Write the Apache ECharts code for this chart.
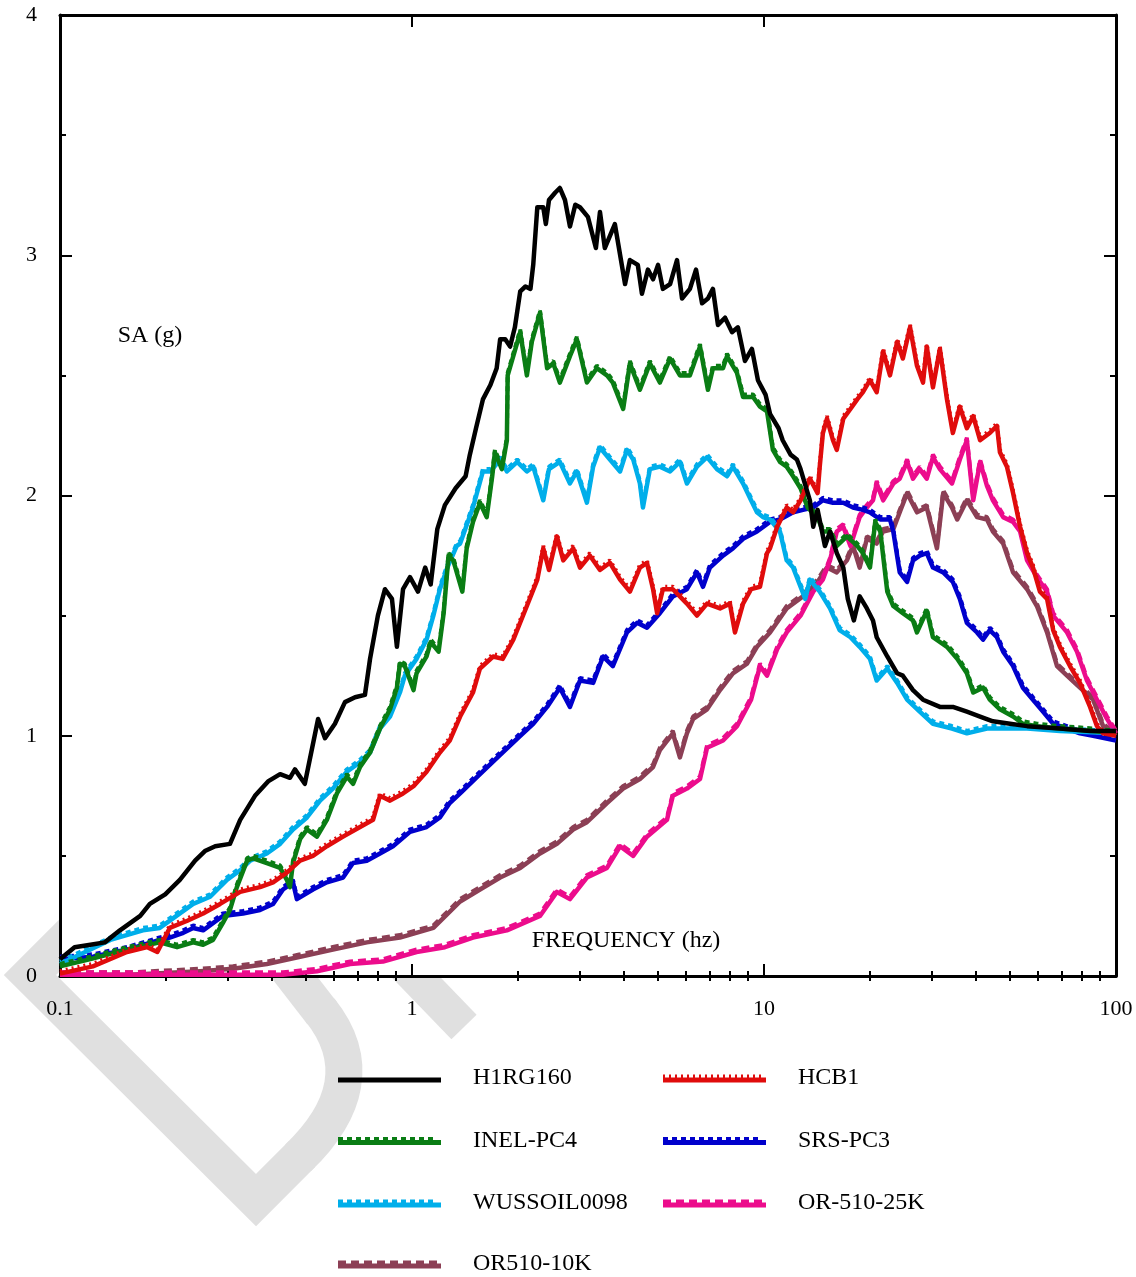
<!DOCTYPE html>
<html>
<head>
<meta charset="utf-8">
<script src="https://cdn.jsdelivr.net/npm/echarts@6/dist/echarts.min.js"></script>
<style>
  html, body { margin: 0; padding: 0; background: #fff; }
  #chart { width: 1136px; height: 1277px; }
</style>
</head>
<body>
<div id="chart"></div>
<script>
// Spectral acceleration SA (g) versus frequency (Hz), pairs of [frequency, SA]
const xTickMajor = [0.1, 1, 10, 100];
const xTickMinor = [0.2, 0.3, 0.4, 0.5, 0.6, 0.7, 0.8, 0.9, 2, 3, 4, 5, 6, 7, 8, 9, 20, 30, 40, 50, 60, 70, 80, 90];
const yTicks = [0, 1, 2, 3, 4];

const h1rg160 = [
  [0.1,0.07],[0.11,0.12],[0.122,0.13],[0.134,0.14],[0.148,0.19],[0.169,0.25],[0.18,0.30],[0.199,0.34],[0.219,0.40],[0.242,0.48],
  [0.258,0.52],[0.276,0.54],[0.304,0.55],[0.325,0.65],[0.358,0.75],[0.39,0.81],[0.422,0.84],[0.45,0.825],[0.465,0.86],[0.496,0.80],
  [0.541,1.07],[0.566,0.99],[0.604,1.05],[0.645,1.14],[0.689,1.16],[0.735,1.17],[0.76,1.32],[0.80,1.50],[0.838,1.61],[0.877,1.57],
  [0.906,1.37],[0.943,1.61],[0.987,1.66],[1.04,1.60],[1.09,1.70],[1.13,1.63],[1.18,1.86],[1.24,1.96],[1.33,2.03],[1.42,2.08],
  [1.46,2.17],[1.52,2.28],[1.59,2.40],[1.67,2.46],[1.74,2.53],[1.78,2.65],[1.84,2.65],[1.90,2.62],[1.96,2.70],[2.03,2.85],
  [2.10,2.87],[2.17,2.86],[2.21,2.96],[2.27,3.20],[2.36,3.20],[2.40,3.13],[2.45,3.23],[2.55,3.26],[2.63,3.28],[2.72,3.23],
  [2.81,3.12],[2.91,3.21],[3.00,3.20],[3.16,3.16],[3.33,3.03],[3.42,3.18],[3.53,3.03],[3.77,3.13],[4.03,2.88],[4.16,2.98],
  [4.38,2.96],[4.50,2.84],[4.68,2.94],[4.84,2.90],[5.00,2.96],[5.16,2.86],[5.41,2.88],[5.66,2.98],[5.85,2.82],[6.16,2.86],
  [6.41,2.94],[6.67,2.80],[6.93,2.82],[7.16,2.86],[7.40,2.71],[7.75,2.74],[8.11,2.68],[8.43,2.70],[8.83,2.56],[9.24,2.61],
  [9.61,2.48],[10.1,2.42],[10.4,2.34],[11.0,2.28],[11.3,2.23],[11.9,2.17],[12.4,2.15],[12.7,2.11],[13.5,1.98],[13.8,1.87],
  [14.2,1.94],[14.9,1.79],[15.4,1.85],[16.1,1.76],[16.8,1.70],[17.3,1.57],[18.0,1.48],[18.7,1.58],[19.6,1.53],[20.4,1.48],
  [20.9,1.41],[22.4,1.33],[23.9,1.26],[24.8,1.25],[26.5,1.19],[28.3,1.15],[31.6,1.12],[34.4,1.12],[37.7,1.10],[41.1,1.08],
  [44.7,1.06],[50.0,1.05],[55.9,1.04],[69.3,1.03],[84.4,1.02],[100,1.02]
];

const inelPc4 = [
  [0.1,0.04],[0.122,0.07],[0.155,0.11],[0.192,0.14],[0.215,0.12],[0.239,0.14],[0.255,0.13],[0.272,0.15],[0.29,0.22],[0.304,0.275],
  [0.318,0.37],[0.34,0.48],[0.354,0.49],[0.387,0.47],[0.422,0.45],[0.441,0.40],[0.45,0.37],[0.459,0.47],[0.481,0.57],[0.503,0.61],
  [0.537,0.58],[0.573,0.65],[0.612,0.76],[0.653,0.83],[0.68,0.80],[0.712,0.87],[0.76,0.93],[0.811,1.03],[0.866,1.11],[0.906,1.20],
  [0.924,1.30],[0.954,1.29],[1.01,1.19],[1.03,1.26],[1.10,1.33],[1.13,1.39],[1.19,1.35],[1.23,1.51],[1.27,1.75],[1.31,1.73],
  [1.39,1.60],[1.43,1.78],[1.49,1.89],[1.56,1.97],[1.63,1.91],[1.69,2.08],[1.72,2.18],[1.80,2.11],[1.86,2.23],[1.87,2.50],
  [2.03,2.68],[2.12,2.50],[2.19,2.64],[2.31,2.76],[2.42,2.53],[2.52,2.55],[2.63,2.47],[2.81,2.58],[2.94,2.65],[3.14,2.47],
  [3.35,2.53],[3.58,2.50],[3.72,2.47],[3.98,2.36],[4.16,2.55],[4.44,2.44],[4.74,2.55],[5.06,2.47],[5.41,2.57],[5.77,2.50],
  [6.16,2.50],[6.58,2.62],[6.93,2.44],[7.16,2.53],[7.65,2.53],[7.85,2.58],[8.38,2.51],[8.72,2.41],[9.31,2.41],[9.74,2.37],
  [10.2,2.35],[10.6,2.19],[11.1,2.14],[11.6,2.12],[12.1,2.08],[12.7,2.03],[13.3,1.95],[14.2,1.91],[14.7,1.85],[15.4,1.85],
  [16.1,1.79],[17.2,1.83],[18.4,1.79],[19.1,1.76],[20.0,1.70],[20.7,1.89],[21.4,1.85],[22.4,1.60],[23.3,1.54],[24.8,1.51],
  [26.5,1.48],[27.2,1.43],[29.0,1.52],[30.2,1.41],[33.1,1.37],[35.4,1.32],[37.7,1.26],[39.3,1.18],[41.9,1.20],[43.8,1.15],
  [46.8,1.11],[51.0,1.08],[54.4,1.05],[59.6,1.04],[69.3,1.03],[86.1,1.02],[100,1.01]
];

const wussoil0098 = [
  [0.1,0.05],[0.139,0.15],[0.172,0.19],[0.192,0.20],[0.239,0.30],[0.267,0.33],[0.298,0.40],[0.325,0.44],[0.347,0.48],[0.387,0.51],
  [0.422,0.55],[0.459,0.61],[0.503,0.66],[0.548,0.73],[0.596,0.78],[0.653,0.85],[0.712,0.89],[0.76,0.93],[0.811,1.03],[0.866,1.08],
  [0.924,1.18],[0.954,1.25],[1.03,1.32],[1.10,1.40],[1.15,1.50],[1.20,1.61],[1.26,1.70],[1.34,1.79],[1.37,1.80],[1.49,1.95],
  [1.59,2.10],[1.67,2.10],[1.78,2.15],[1.86,2.10],[1.99,2.14],[2.12,2.10],[2.21,2.12],[2.36,1.98],[2.45,2.11],[2.63,2.14],
  [2.81,2.05],[2.94,2.10],[3.14,1.97],[3.27,2.12],[3.42,2.20],[3.65,2.15],[3.90,2.10],[4.08,2.19],[4.25,2.15],[4.44,2.05],
  [4.53,1.95],[4.74,2.11],[5.06,2.12],[5.41,2.10],[5.77,2.14],[6.04,2.05],[6.45,2.12],[6.89,2.16],[7.35,2.11],[7.85,2.08],
  [8.16,2.12],[8.72,2.05],[9.19,1.98],[9.55,1.93],[9.93,1.91],[10.4,1.90],[11.1,1.85],[11.6,1.73],[12.1,1.70],[12.7,1.62],
  [13.1,1.57],[13.5,1.65],[14.4,1.60],[15.4,1.53],[16.4,1.44],[17.6,1.41],[18.7,1.37],[20.0,1.32],[20.9,1.23],[22.4,1.28],
  [23.9,1.22],[25.5,1.15],[27.7,1.10],[30.2,1.05],[34.2,1.03],[37.7,1.01],[43.0,1.03],[49.0,1.03],[55.9,1.03],[69.3,1.02],[100,1.01]
];

const or51010k = [
  [0.1,0.005],[0.158,0.005],[0.25,0.02],[0.31,0.03],[0.387,0.05],[0.481,0.08],[0.596,0.11],[0.744,0.14],[0.924,0.16],[1.15,0.20],
  [1.37,0.31],[1.56,0.36],[1.78,0.41],[2.03,0.45],[2.31,0.51],[2.58,0.55],[2.87,0.61],[3.14,0.64],[3.58,0.72],[3.98,0.78],
  [4.44,0.82],[4.84,0.87],[5.06,0.94],[5.51,1.01],[5.77,0.91],[6.04,1.01],[6.29,1.07],[6.89,1.11],[7.50,1.19],[8.16,1.26],
  [8.95,1.30],[9.55,1.37],[10.4,1.43],[11.6,1.53],[12.9,1.58],[14.2,1.64],[15.1,1.70],[16.1,1.68],[17.2,1.73],[17.9,1.79],
  [18.7,1.70],[19.6,1.82],[20.9,1.80],[21.8,1.85],[23.3,1.86],[24.3,1.93],[25.5,2.01],[27.2,1.93],[29.0,1.95],[31.0,1.78],
  [32.3,2.01],[34.2,1.95],[35.4,1.90],[37.7,1.98],[40.3,1.91],[43.0,1.90],[44.7,1.85],[47.8,1.80],[51.0,1.68],[55.9,1.61],
  [59.6,1.54],[63.7,1.43],[68.0,1.29],[72.6,1.25],[79.0,1.20],[86.1,1.15],[91.9,1.04],[100,1.00]
];

const hcb1 = [
  [0.1,0.01],[0.124,0.04],[0.155,0.10],[0.177,0.12],[0.189,0.10],[0.205,0.20],[0.23,0.23],[0.255,0.26],[0.285,0.30],[0.325,0.35],
  [0.37,0.37],[0.403,0.39],[0.441,0.43],[0.481,0.48],[0.523,0.50],[0.573,0.54],[0.637,0.58],[0.712,0.62],[0.775,0.65],[0.811,0.75],
  [0.866,0.73],[0.943,0.76],[1.01,0.79],[1.10,0.85],[1.20,0.93],[1.28,0.98],[1.37,1.08],[1.49,1.18],[1.56,1.28],[1.70,1.33],
  [1.81,1.32],[1.94,1.40],[2.12,1.54],[2.27,1.65],[2.36,1.78],[2.45,1.69],[2.58,1.83],[2.69,1.73],[2.87,1.78],[3.00,1.70],
  [3.20,1.75],[3.42,1.69],[3.65,1.72],[3.90,1.65],[4.16,1.60],[4.44,1.70],[4.65,1.72],[4.84,1.61],[4.97,1.51],[5.16,1.61],
  [5.51,1.61],[6.04,1.55],[6.45,1.50],[6.89,1.55],[7.50,1.53],[8.00,1.55],[8.27,1.43],[8.72,1.55],[9.19,1.61],[9.74,1.62],
  [10.2,1.76],[10.4,1.78],[10.9,1.87],[11.6,1.95],[12.1,1.93],[12.7,1.98],[13.5,2.07],[14.2,2.01],[14.4,2.12],[14.7,2.26],
  [15.1,2.32],[15.7,2.23],[16.1,2.19],[16.8,2.32],[17.6,2.36],[18.4,2.40],[19.1,2.43],[20.0,2.48],[20.9,2.43],[21.8,2.60],
  [22.8,2.50],[23.9,2.64],[24.8,2.57],[26.0,2.70],[27.2,2.54],[28.3,2.47],[29.0,2.62],[30.2,2.45],[31.6,2.61],[33.1,2.40],
  [34.4,2.26],[36.0,2.37],[37.7,2.28],[39.3,2.33],[41.1,2.23],[43.8,2.26],[45.9,2.29],[46.8,2.18],[49.0,2.12],[51.0,2.01],
  [53.4,1.87],[55.9,1.76],[58.1,1.70],[60.8,1.60],[63.7,1.57],[66.3,1.44],[69.3,1.37],[74.0,1.29],[79.0,1.22],[84.4,1.12],
  [88.3,1.04],[91.9,1.01],[100,1.00]
];

const srsPc3 = [
  [0.1,0.07],[0.124,0.08],[0.155,0.11],[0.192,0.15],[0.205,0.16],[0.224,0.18],[0.239,0.20],[0.255,0.19],[0.272,0.22],[0.29,0.25],
  [0.331,0.26],[0.37,0.275],[0.403,0.30],[0.43,0.36],[0.459,0.39],[0.471,0.32],[0.523,0.36],[0.573,0.39],[0.637,0.41],[0.68,0.47],
  [0.744,0.48],[0.811,0.51],[0.883,0.54],[0.987,0.60],[1.10,0.62],[1.20,0.66],[1.28,0.72],[1.37,0.76],[1.56,0.84],[1.78,0.92],
  [2.03,1.00],[2.21,1.05],[2.42,1.12],[2.63,1.20],[2.81,1.12],[3.00,1.23],[3.27,1.22],[3.49,1.33],[3.72,1.29],[4.08,1.43],
  [4.36,1.47],[4.65,1.45],[5.06,1.51],[5.51,1.58],[6.04,1.61],[6.45,1.68],[6.71,1.62],[7.02,1.70],[7.65,1.75],[8.16,1.78],
  [8.72,1.82],[9.55,1.85],[10.4,1.89],[11.1,1.90],[12.1,1.93],[12.9,1.94],[13.8,1.95],[14.7,1.98],[15.7,1.97],[16.8,1.97],
  [17.9,1.95],[19.1,1.94],[20.0,1.93],[21.4,1.90],[22.8,1.90],[23.3,1.85],[24.3,1.68],[25.5,1.64],[26.5,1.73],[27.7,1.75],
  [29.0,1.76],[30.2,1.70],[32.3,1.68],[34.4,1.64],[36.0,1.57],[37.7,1.47],[40.3,1.43],[41.9,1.40],[43.8,1.44],[45.9,1.41],
  [47.8,1.35],[51.0,1.29],[54.4,1.20],[58.1,1.15],[62.1,1.10],[66.3,1.05],[72.6,1.03],[79.0,1.01],[86.1,1.00],[100,0.98]
];

const or51025k = [
  [0.1,0.005],[0.43,0.005],[0.537,0.02],[0.667,0.05],[0.827,0.06],[1.03,0.10],[1.24,0.12],[1.49,0.16],[1.86,0.19],[2.31,0.25],
  [2.58,0.35],[2.81,0.32],[3.14,0.41],[3.58,0.45],[3.90,0.54],[4.25,0.50],[4.65,0.58],[5.30,0.65],[5.51,0.75],[6.04,0.78],
  [6.58,0.82],[6.89,0.95],[7.65,0.98],[8.38,1.04],[9.19,1.15],[9.74,1.29],[10.2,1.25],[10.9,1.36],[11.6,1.43],[12.7,1.50],
  [13.8,1.60],[14.7,1.65],[15.4,1.73],[16.1,1.85],[16.8,1.87],[17.6,1.79],[18.7,1.91],[19.6,1.95],[20.4,1.98],[20.9,2.05],
  [21.8,1.98],[23.3,2.05],[24.3,2.07],[25.5,2.14],[26.5,2.07],[27.7,2.11],[29.0,2.07],[30.2,2.16],[31.6,2.11],[34.2,2.05],
  [36.0,2.15],[37.7,2.23],[39.3,1.98],[41.1,2.14],[43.0,2.04],[44.7,1.98],[47.8,1.91],[51.0,1.89],[53.4,1.85],[55.9,1.73],
  [59.6,1.66],[63.7,1.60],[66.3,1.50],[72.6,1.43],[77.5,1.35],[82.7,1.23],[88.3,1.15],[94.3,1.07],[100,1.01]
];

// name, data, colour, dash pattern of the companion trace (null = single solid trace)
const curves = [
  { name: 'OR510-10K',   data: or51010k,    color: '#8c3f55', dash: [8, 5] },
  { name: 'OR-510-25K',  data: or51025k,    color: '#ec0c8c', dash: [8, 5] },
  { name: 'SRS-PC3',     data: srsPc3,      color: '#0000cc', dash: [5, 4] },
  { name: 'WUSSOIL0098', data: wussoil0098, color: '#00aeea', dash: [5, 4] },
  { name: 'INEL-PC4',    data: inelPc4,     color: '#0a7d14', dash: [5, 4] },
  { name: 'HCB1',        data: hcb1,        color: '#e00c0c', dash: [2, 4] },
  { name: 'H1RG160',     data: h1rg160,     color: '#000000', dash: null }
];
// legend blocks: [left edge, top edge, entries]
const legendBlocks = [
  [338, 1066, ['H1RG160', 'INEL-PC4', 'WUSSOIL0098']],
  [338, 1252, ['OR510-10K']],
  [663, 1066, ['HCB1', 'SRS-PC3', 'OR-510-25K']]
];

const FONT = '"Liberation Serif", "Times New Roman", serif';

// Legend glyph: a bar with a comb of dashes on top (the paired traces)
function legendIcon(dash) {
  const W = 103;
  let p = 'path://M0,0 L0.01,0 L0,0.01 Z M0,4 L' + W + ',4 L' + W + ',9 L0,9 Z';
  if (dash) {
    for (let x = 0; x + dash[0] <= W; x += dash[0] + dash[1]) {
      p += ' M' + x + ',1 L' + (x + dash[0]) + ',1 L' + (x + dash[0]) + ',4 L' + x + ',4 Z';
    }
  }
  return p;
}

const byName = {};
curves.forEach(c => { byName[c.name] = c; });
function legendData(names) {
  return names.map(n => ({ name: n, icon: legendIcon(byName[n].dash), itemStyle: { color: byName[n].color } }));
}

const series = [];
curves.forEach(c => {
  if (c.dash) {
    series.push({
      name: c.name, type: 'line', xAxisIndex: 4, yAxisIndex: 2, data: c.data,
      symbol: 'none', animation: false, silent: true,
      lineStyle: { color: c.color, width: 4, type: c.dash }
    });
  }
  series.push({
    name: c.name, type: 'line', xAxisIndex: 0, yAxisIndex: 0, data: c.data,
    symbol: 'none', animation: false,
    lineStyle: { color: c.color, width: 4.5, join: 'round' }
  });
});

const logRange = { type: 'log', logBase: 10, min: 0.1, max: 100 };
const tickLine = { color: '#000', width: 2 };
const stamp = { fill: 'none', stroke: '#e0e0e0', lineWidth: 37 };
const legendText = { color: '#000', fontSize: 24, fontFamily: FONT, lineHeight: 22, padding: [0, 0, 0, 27] };

const option = {
  backgroundColor: '#fff',
  animation: false,
  grid: [
    { left: 60, right: 20, top: 15, bottom: 301, show: true, backgroundColor: '#fff', borderWidth: 0 },
    { left: 60, right: 20, top: 12.5, bottom: 303.5, show: false }
  ],
  xAxis: [
    Object.assign({}, logRange, {
      gridIndex: 0, position: 'bottom',
      axisLine: { show: true, onZero: false, lineStyle: { color: '#000', width: 3 } },
      axisTick: { show: true, inside: true, length: 12, lineStyle: tickLine, customValues: xTickMajor },
      axisLabel: { show: true, customValues: xTickMajor, margin: 22, color: '#000', fontSize: 22, fontFamily: FONT,
                   formatter: v => String(+(+v).toPrecision(6)) },
      splitLine: { show: false }
    }),
    Object.assign({}, logRange, {
      gridIndex: 0, position: 'bottom',
      axisLine: { show: false },
      axisTick: { show: true, inside: true, length: 5, lineStyle: tickLine, customValues: xTickMinor },
      axisLabel: { show: false }, splitLine: { show: false }
    }),
    Object.assign({}, logRange, {
      gridIndex: 0, position: 'top',
      axisLine: { show: true, onZero: false, lineStyle: { color: '#000', width: 3 } },
      axisTick: { show: true, inside: true, length: 12, lineStyle: tickLine, customValues: xTickMajor },
      axisLabel: { show: false }, splitLine: { show: false }
    }),
    Object.assign({}, logRange, {
      gridIndex: 0, position: 'top',
      axisLine: { show: false },
      axisTick: { show: true, inside: true, length: 5, lineStyle: tickLine, customValues: xTickMinor },
      axisLabel: { show: false }, splitLine: { show: false }
    }),
    Object.assign({}, logRange, { gridIndex: 1, show: false })
  ],
  yAxis: [
    {
      gridIndex: 0, type: 'value', min: yTicks[0], max: yTicks[yTicks.length - 1], interval: 1, position: 'left',
      axisLine: { show: true, onZero: false, lineStyle: { color: '#000', width: 3 } },
      axisTick: { show: true, inside: true, length: 12, lineStyle: tickLine },
      minorTick: { show: true, splitNumber: 2, length: 6, lineStyle: tickLine },
      axisLabel: { margin: 23, color: '#000', fontSize: 22, fontFamily: FONT },
      splitLine: { show: false }, minorSplitLine: { show: false }
    },
    {
      gridIndex: 0, type: 'value', min: yTicks[0], max: yTicks[yTicks.length - 1], interval: 1, position: 'right',
      axisLine: { show: true, onZero: false, lineStyle: { color: '#000', width: 3 } },
      axisTick: { show: true, inside: true, length: 12, lineStyle: tickLine },
      minorTick: { show: true, splitNumber: 2, length: 6, lineStyle: tickLine },
      axisLabel: { show: false },
      splitLine: { show: false }, minorSplitLine: { show: false }
    },
    { gridIndex: 1, type: 'value', min: yTicks[0], max: yTicks[yTicks.length - 1], show: false }
  ],
  legend: legendBlocks.map(([left, top, names]) => ({
    left: left, top: top, padding: 0, orient: 'vertical', itemWidth: 103, itemHeight: 9, itemGap: 38.5,
    textStyle: legendText, data: legendData(names)
  })),
  graphic: [
    // faint "DRAFT"-style stamp sitting behind the plotting area
    {
      type: 'polyline', z: -10, silent: true,
      shape: { points: [[200, 805], [30, 975], [256, 1200], [302, 1154]] },
      style: Object.assign({ lineJoin: 'miter', lineCap: 'butt' }, stamp)
    },
    {
      type: 'bezierCurve', z: -10, silent: true,
      shape: { x1: 298, y1: 1158, cpx1: 348, cpy1: 1110, cpx2: 360, cpy2: 1060, x2: 320, y2: 1010 },
      style: Object.assign({ lineCap: 'butt' }, stamp)
    },
    {
      type: 'line', z: -10, silent: true,
      shape: { x1: 322, y1: 1013, x2: 250, y2: 920 },
      style: Object.assign({ lineCap: 'butt' }, stamp)
    },
    {
      type: 'line', z: -10, silent: true,
      shape: { x1: 380, y1: 940, x2: 464, y2: 1027 },
      style: { stroke: '#e0e0e0', lineWidth: 35, lineCap: 'butt' }
    },
    {
      type: 'text', z: 10, silent: true, x: 150, y: 336,
      style: { text: 'SA (g)', fill: '#000', fontSize: 24, fontFamily: FONT, align: 'center', verticalAlign: 'middle' }
    },
    {
      type: 'text', z: 10, silent: true, x: 626, y: 941,
      style: { text: 'FREQUENCY (hz)', fill: '#000', fontSize: 24, fontFamily: FONT, align: 'center', verticalAlign: 'middle' }
    }
  ],
  series: series
};

const chart = echarts.init(document.getElementById('chart'), null, { renderer: 'canvas' });
chart.setOption(option);
</script>
</body>
</html>
